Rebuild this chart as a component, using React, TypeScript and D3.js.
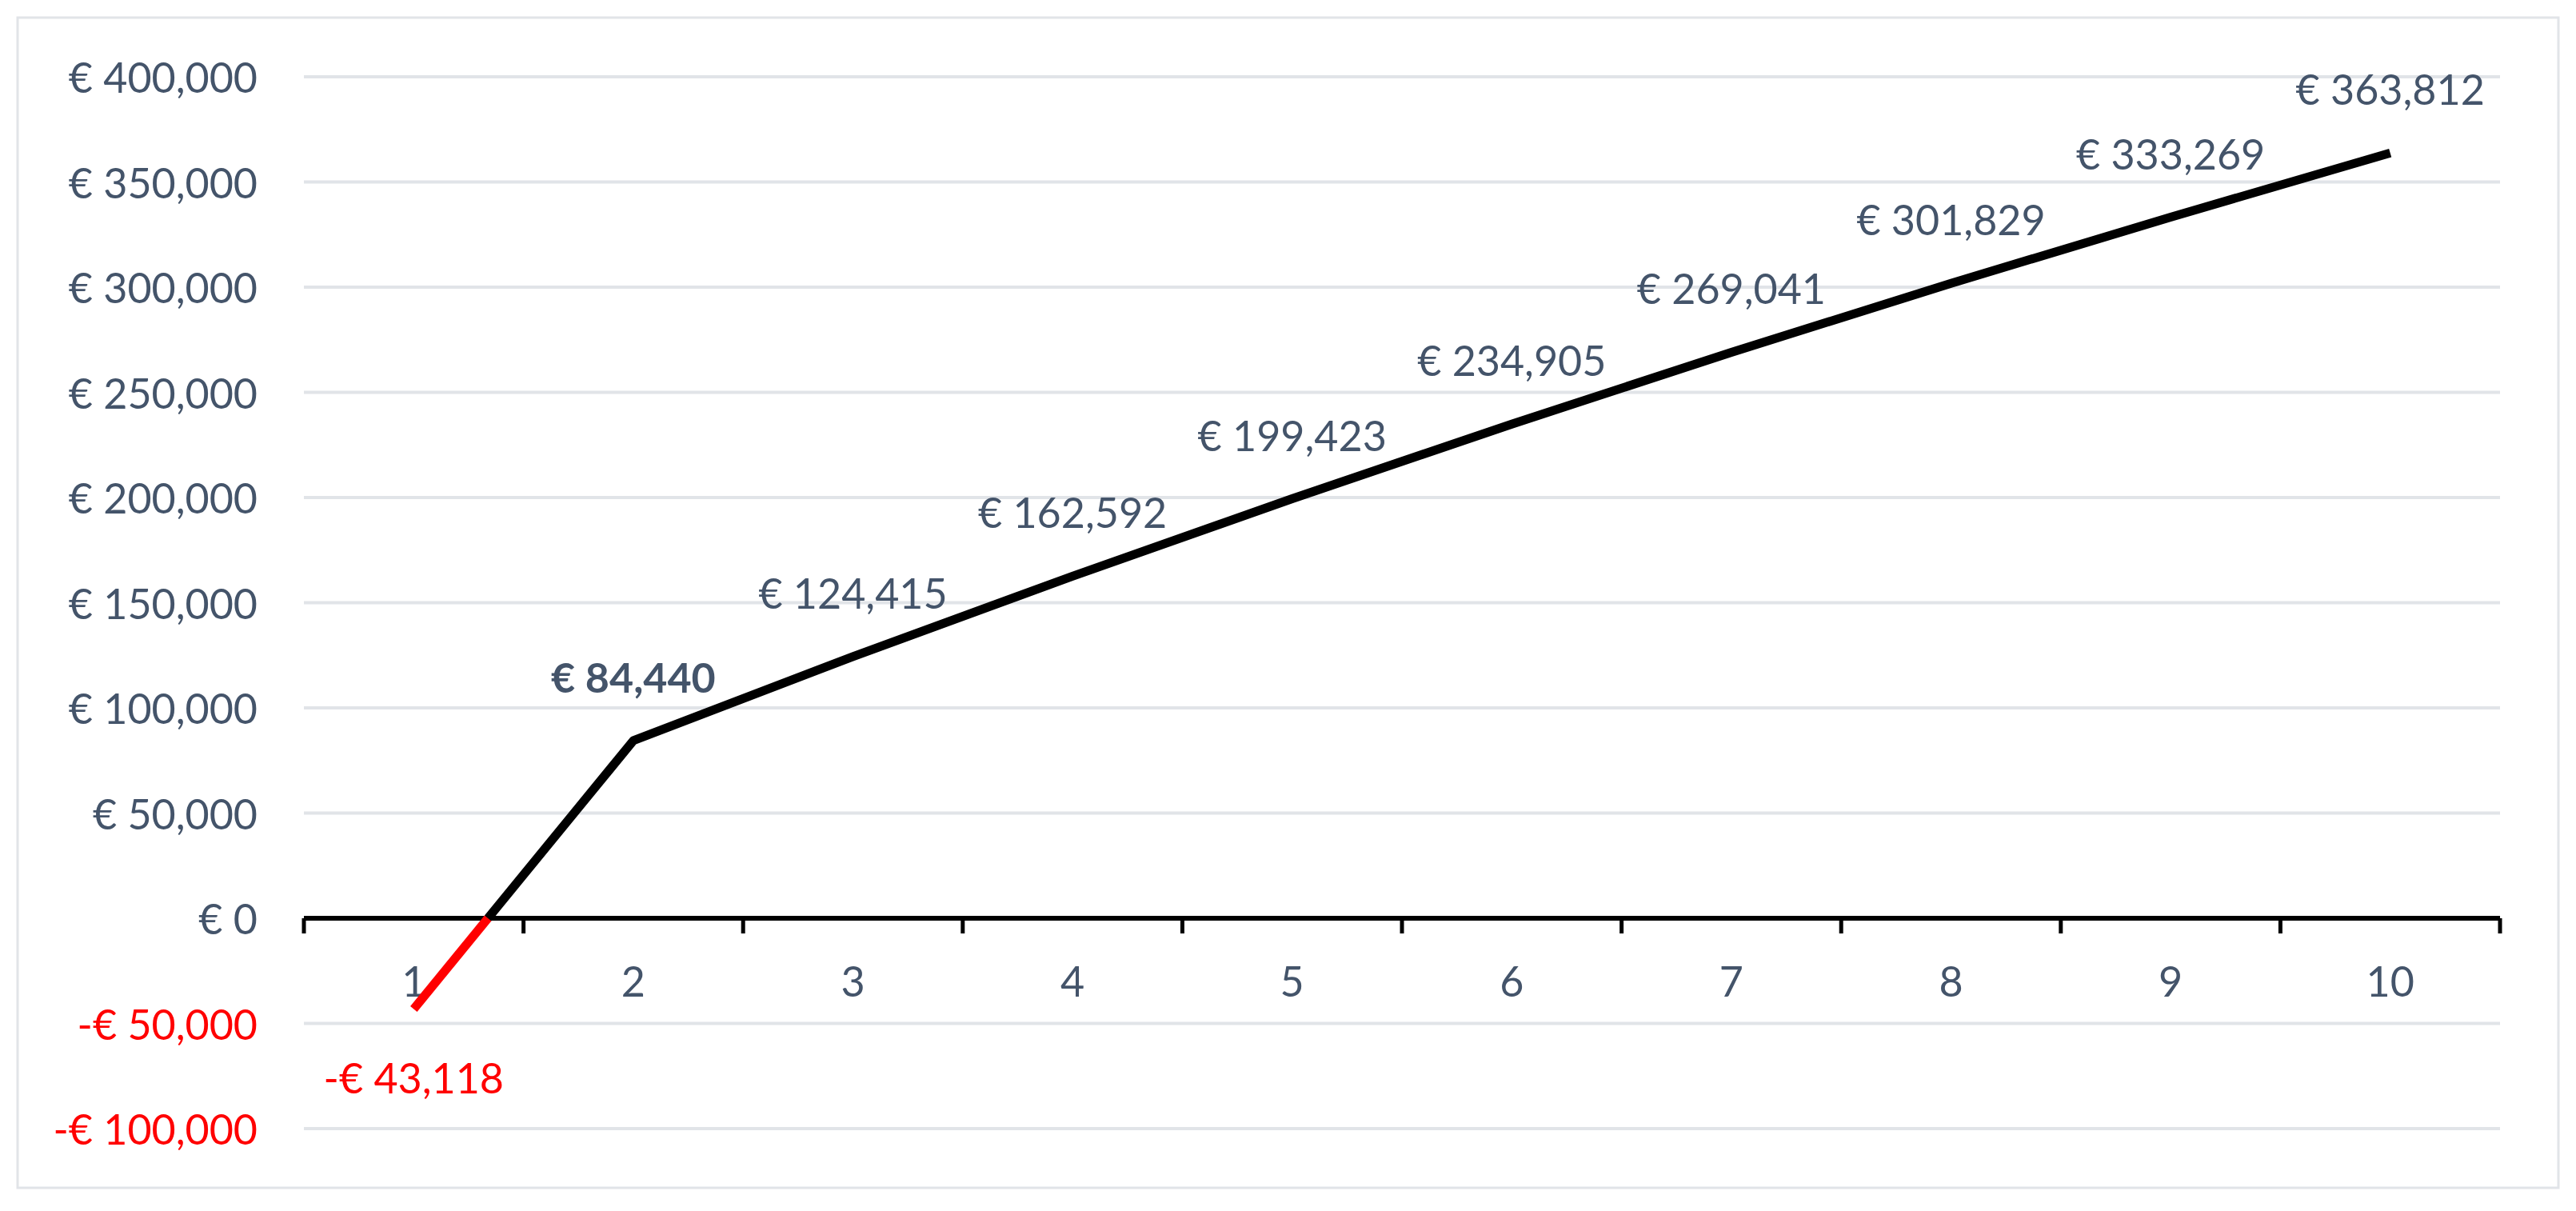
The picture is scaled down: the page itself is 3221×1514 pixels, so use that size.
import React from 'react'
import * as d3 from 'd3'

const years = ['1', '2', '3', '4', '5', '6', '7', '8', '9', '10']
const values = [-43118, 84440, 124415, 162592, 199423, 234905, 269041, 301829, 333269, 363812]
const yTicks = [-100000, -50000, 0, 50000, 100000, 150000, 200000, 250000, 300000, 350000, 400000]

const W = 3221, H = 1514
const margin = { top: 96, right: 95, bottom: 103, left: 380 }
const textColor = '#44546A'
const font = 'Lato, "Open Sans", sans-serif'

const euro = (v: number) => (v < 0 ? '-€ ' : '€ ') + d3.format(',')(Math.abs(v))

const App = () => {
    const x = d3.scaleBand().domain(years).range([margin.left, W - margin.right]).padding(0)
    const y = d3.scaleLinear().domain([-100000, 400000]).range([H - margin.bottom, margin.top])
    const cx = (i: number) => (x(years[i]) as number) + x.bandwidth() / 2

    // split the line where it crosses zero
    const pts = values.map((v, i) => [cx(i), y(v), v] as [number, number, number])
    const neg: [number, number][] = []
    const pos: [number, number][] = []
    for (let i = 0; i < pts.length; i++) {
        const [px, py, v] = pts[i]
        if (v < 0) neg.push([px, py]); else pos.push([px, py])
        if (i < pts.length - 1) {
            const nv = pts[i + 1][2]
            if ((v < 0) !== (nv < 0)) {
                const t = v / (v - nv)
                const zx = px + (pts[i + 1][0] - px) * t
                neg.push([zx, y(0)])
                pos.push([zx, y(0)])
            }
        }
    }
    const line = d3.line()
    const tickXs = years.map(d => x(d) as number).concat([W - margin.right])

    return (
        <svg width={W} height={H} style={{ position: 'absolute', left: 0, top: 0, background: '#fff' }}
            fontFamily={font}>
            <rect x={22} y={22} width={3177} height={1463} fill="#fff" stroke="#E1E4E8" strokeWidth={3} />

            {yTicks.filter(t => t !== 0).map(t => (
                <line key={t} x1={margin.left} x2={W - margin.right} y1={y(t)} y2={y(t)}
                    stroke="#E1E4E8" strokeWidth={4} />
            ))}
            {yTicks.map(t => (
                <text key={t} x={322} y={y(t)} textAnchor="end" dominantBaseline="central"
                    fontSize={52} fill={t < 0 ? '#FF0000' : textColor}>{euro(t)}</text>
            ))}

            <line x1={margin.left} x2={W - margin.right} y1={y(0)} y2={y(0)} stroke="#000" strokeWidth={6} />
            {tickXs.map((tx, i) => (
                <line key={i} x1={tx} x2={tx} y1={y(0)} y2={y(0) + 19} stroke="#000" strokeWidth={5} />
            ))}
            {years.map((d, i) => (
                <text key={d} x={cx(i)} y={1226} textAnchor="middle" dominantBaseline="central"
                    fontSize={52} fill={textColor}>{d}</text>
            ))}

            <path d={line(pos) || ''} fill="none" stroke="#000" strokeWidth={11} strokeLinejoin="round" />
            <path d={line(neg) || ''} fill="none" stroke="#FF0000" strokeWidth={11} />

            {values.map((v, i) => (
                <text key={i} x={cx(i)} y={y(v) + (v < 0 ? 86 : -80)} textAnchor="middle"
                    dominantBaseline="central" fontSize={52}
                    fontWeight={i === 1 ? 'bold' : 'normal'}
                    fill={v < 0 ? '#FF0000' : textColor}>{euro(v)}</text>
            ))}
        </svg>
    )
}

export default App
